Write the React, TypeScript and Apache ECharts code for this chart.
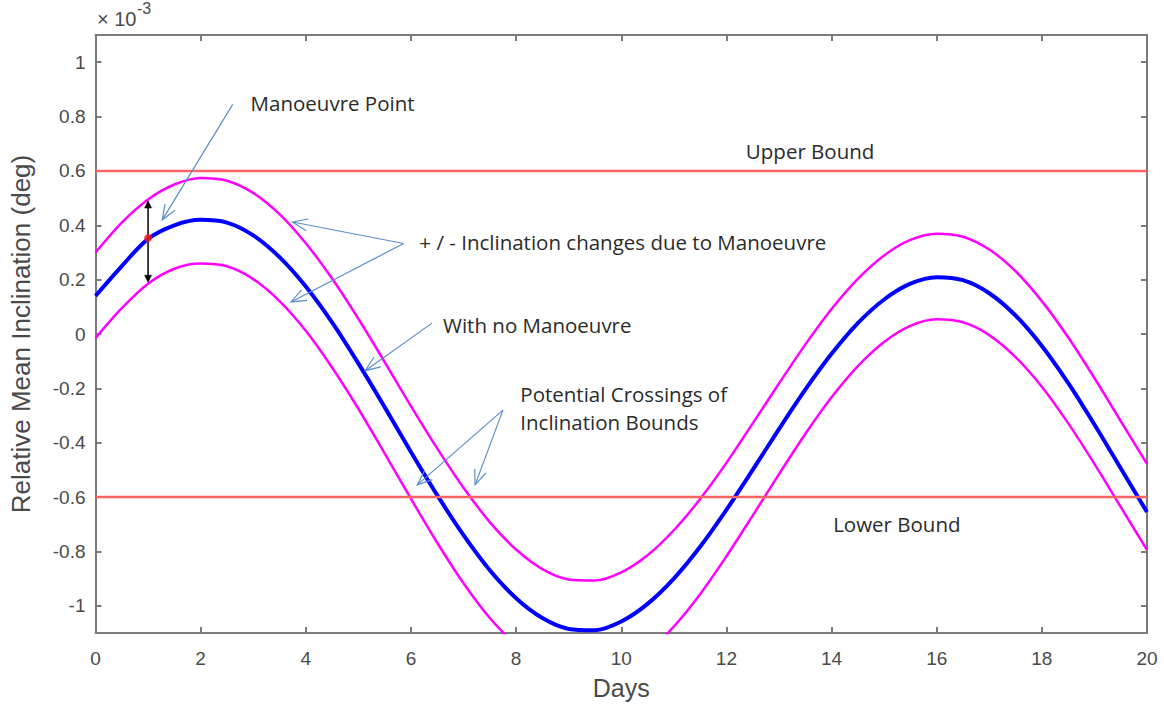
import React, { useEffect, useRef } from "react";
import * as echarts from "echarts";

// ---- Data (inclination in units of 1e-3 deg) ----
const days = [
  0, 0.5, 1, 1.5, 2, 2.5, 3, 3.5, 4, 4.5, 5, 5.5, 6, 6.5, 7, 7.5, 8, 8.5, 9, 9.5,
  10, 10.5, 11, 11.5, 12, 12.5, 13, 13.5, 14, 14.5, 15, 15.5, 16, 16.5, 17, 17.5,
  18, 18.5, 19, 19.5, 20,
];
const noManoeuvre = [
  0.14, 0.25, 0.35, 0.4, 0.42, 0.41, 0.363, 0.283, 0.175, 0.043, -0.108, -0.269,
  -0.434, -0.593, -0.74, -0.869, -0.972, -1.045, -1.085, -1.09, -1.058, -0.993,
  -0.9, -0.783, -0.647, -0.5, -0.35, -0.205, -0.073, 0.04, 0.127, 0.185, 0.209,
  0.198, 0.15, 0.068, -0.044, -0.18, -0.333, -0.494, -0.655,
];
const plusManoeuvre = [
  0.3, 0.41, 0.495, 0.55, 0.574, 0.564, 0.519, 0.441, 0.334, 0.204, 0.056, -0.103,
  -0.265, -0.421, -0.566, -0.692, -0.793, -0.865, -0.903, -0.907, -0.877, -0.814,
  -0.722, -0.607, -0.474, -0.329, -0.182, -0.039, 0.092, 0.203, 0.289, 0.346,
  0.369, 0.358, 0.311, 0.231, 0.121, -0.012, -0.162, -0.32, -0.478,
];
const minusManoeuvre = [
  -0.015, 0.095, 0.185, 0.24, 0.259, 0.249, 0.202, 0.121, 0.012, -0.123, -0.275,
  -0.439, -0.606, -0.768, -0.917, -1.045, -1.145, -1.226, -1.265, -1.267, -1.236,
  -1.171, -1.076, -0.957, -0.818, -0.668, -0.516, -0.368, -0.233, -0.118, -0.029,
  0.03, 0.054, 0.043, -0.004, -0.085, -0.194, -0.328, -0.478, -0.636, -0.794,
];
const upperBound = 0.6;
const lowerBound = -0.6;
const yTicks = [-1, -0.8, -0.6, -0.4, -0.2, 0, 0.2, 0.4, 0.6, 0.8, 1];
const xMin = 0;
const xMax = 20;
const xStep = 2;
const yMin = -1.1;
const yMax = 1.1;

// Manoeuvre point and +/- change arrows (data coords)
const manoeuvrePoint = [1, 0.353];
const changeArrows = [
  [1, 0.353, 1, 0.49],
  [1, 0.353, 1, 0.19],
];

// Annotation call-out arrows [x0, y0, x1, y1] (data coords)
const calloutArrows = [
  [2.61, 0.845, 1.27, 0.42],
  [5.86, 0.333, 3.75, 0.412],
  [5.86, 0.333, 3.72, 0.118],
  [6.4, 0.04, 5.13, -0.135],
  [7.75, -0.28, 6.12, -0.555],
  [7.75, -0.28, 7.22, -0.555],
];

// Annotation labels [x (left), y (middle)] and their texts
const labelTexts = [
  "Manoeuvre Point",
  "Upper Bound",
  "+ / - Inclination changes due to Manoeuvre",
  "With no Manoeuvre",
  "Potential Crossings of",
  "Inclination Bounds",
  "Lower Bound",
];
const labelPositions = [
  [2.95, 0.849],
  [12.37, 0.673],
  [6.16, 0.338],
  [6.61, 0.033],
  [8.08, -0.221],
  [8.08, -0.324],
  [14.03, -0.699],
];

const AXIS_COLOR = "#7a7a7a";
const LABEL_COLOR = "#4a4a4a";
const CALLOUT_COLOR = "#5b8ec9";

export default function App() {
  const ref = useRef<HTMLDivElement>(null);

  useEffect(() => {
    if (!ref.current) return;
    const chart = echarts.init(ref.current, undefined, { renderer: "svg" });

    const toPairs = (vals: number[]) => days.map((d, i) => [d, vals[i]]);

    const tickFmt = (v: number) => String(Math.round(v * 10) / 10);

    const option: any = {
      animation: false,
      backgroundColor: "#ffffff",
      grid: {
        left: 95.5,
        right: 17,
        top: 35,
        bottom: 71,
        containLabel: false,
        outerBoundsMode: "none",
      },
      xAxis: [
        {
          type: "value",
          min: xMin,
          max: xMax,
          interval: xStep,
          name: "Days",
          nameLocation: "middle",
          nameGap: 42,
          nameTextStyle: { fontFamily: "Liberation Sans", fontSize: 25, color: LABEL_COLOR },
          axisLine: { show: true, onZero: false, lineStyle: { color: AXIS_COLOR, width: 2 } },
          axisTick: { show: true, inside: true, length: 6, lineStyle: { color: AXIS_COLOR, width: 2 } },
          axisLabel: {
            fontFamily: "Liberation Sans",
            fontSize: 19,
            color: LABEL_COLOR,
            margin: 16,
            formatter: tickFmt,
          },
          splitLine: { show: false },
        },
        {
          type: "value",
          position: "top",
          min: xMin,
          max: xMax,
          interval: xStep,
          axisLine: { show: true, onZero: false, lineStyle: { color: AXIS_COLOR, width: 2 } },
          axisTick: { show: true, inside: true, length: 6, lineStyle: { color: AXIS_COLOR, width: 2 } },
          axisLabel: { show: false },
          splitLine: { show: false },
        },
      ],
      yAxis: [
        {
          type: "value",
          min: yMin,
          max: yMax,
          name: "Relative Mean Inclination (deg)",
          nameLocation: "middle",
          nameGap: 62,
          nameTextStyle: { fontFamily: "Liberation Sans", fontSize: 26, color: LABEL_COLOR },
          axisLine: { show: true, onZero: false, lineStyle: { color: AXIS_COLOR, width: 2 } },
          axisTick: {
            show: true,
            inside: true,
            length: 6,
            customValues: yTicks,
            lineStyle: { color: AXIS_COLOR, width: 2 },
          },
          axisLabel: {
            fontFamily: "Liberation Sans",
            fontSize: 19,
            color: LABEL_COLOR,
            margin: 10,
            customValues: yTicks,
            formatter: tickFmt,
          },
          splitLine: { show: false },
        },
        {
          type: "value",
          position: "right",
          min: yMin,
          max: yMax,
          axisLine: { show: true, onZero: false, lineStyle: { color: AXIS_COLOR, width: 2 } },
          axisTick: {
            show: true,
            inside: true,
            length: 6,
            customValues: yTicks,
            lineStyle: { color: AXIS_COLOR, width: 2 },
          },
          axisLabel: { show: false, customValues: yTicks },
          splitLine: { show: false },
        },
      ],
      series: [
        {
          name: "+ Manoeuvre",
          type: "line",
          data: toPairs(plusManoeuvre),
          smooth: 0.3,
          showSymbol: false,
          lineStyle: { color: "#ff00ff", width: 2.5 },
          itemStyle: { color: "#ff00ff" },
          z: 2,
        },
        {
          name: "- Manoeuvre",
          type: "line",
          data: toPairs(minusManoeuvre),
          smooth: 0.3,
          showSymbol: false,
          lineStyle: { color: "#ff00ff", width: 2.5 },
          itemStyle: { color: "#ff00ff" },
          z: 2,
        },
        {
          name: "No Manoeuvre",
          type: "line",
          data: toPairs(noManoeuvre),
          smooth: 0.3,
          showSymbol: false,
          lineStyle: { color: "#0000ff", width: 4 },
          itemStyle: { color: "#0000ff" },
          z: 3,
        },
        {
          name: "Upper Bound",
          type: "line",
          data: [
            [xMin, upperBound],
            [xMax, upperBound],
          ],
          showSymbol: false,
          lineStyle: { color: "#ff6464", width: 2.5 },
          z: 4,
        },
        {
          name: "Lower Bound",
          type: "line",
          data: [
            [xMin, lowerBound],
            [xMax, lowerBound],
          ],
          showSymbol: false,
          lineStyle: { color: "#ff6464", width: 2.5 },
          z: 4,
        },
        {
          name: "Change arrows",
          type: "custom",
          data: changeArrows,
          z: 5,
          renderItem: (params: any, api: any) => {
            const p0 = api.coord([api.value(0), api.value(1)]);
            const p1 = api.coord([api.value(2), api.value(3)]);
            const ang = Math.atan2(p1[1] - p0[1], p1[0] - p0[0]);
            const L = 8;
            const A = 0.45;
            const h1 = [p1[0] - L * Math.cos(ang - A), p1[1] - L * Math.sin(ang - A)];
            const h2 = [p1[0] - L * Math.cos(ang + A), p1[1] - L * Math.sin(ang + A)];
            const base = [p1[0] - L * 0.8 * Math.cos(ang), p1[1] - L * 0.8 * Math.sin(ang)];
            return {
              type: "group",
              children: [
                {
                  type: "line",
                  shape: { x1: p0[0], y1: p0[1], x2: base[0], y2: base[1] },
                  style: { stroke: "#000000", lineWidth: 1.5 },
                },
                {
                  type: "polygon",
                  shape: { points: [h1, p1, h2] },
                  style: { fill: "#000000", stroke: "#000000", lineWidth: 0.5 },
                },
              ],
            };
          },
        },
        {
          name: "Manoeuvre Point",
          type: "scatter",
          data: [manoeuvrePoint],
          symbol: "circle",
          symbolSize: 8,
          itemStyle: { color: "#ff1a1a" },
          z: 6,
        },
        {
          name: "Callouts",
          type: "custom",
          data: calloutArrows,
          z: 7,
          renderItem: (params: any, api: any) => {
            const p0 = api.coord([api.value(0), api.value(1)]);
            const p1 = api.coord([api.value(2), api.value(3)]);
            const ang = Math.atan2(p1[1] - p0[1], p1[0] - p0[0]);
            const L = 16;
            const A = 0.38;
            const h1 = [p1[0] - L * Math.cos(ang - A), p1[1] - L * Math.sin(ang - A)];
            const h2 = [p1[0] - L * Math.cos(ang + A), p1[1] - L * Math.sin(ang + A)];
            return {
              type: "group",
              children: [
                {
                  type: "line",
                  shape: { x1: p0[0], y1: p0[1], x2: p1[0], y2: p1[1] },
                  style: { stroke: CALLOUT_COLOR, lineWidth: 1.2 },
                },
                {
                  type: "polyline",
                  shape: { points: [h1, p1, h2] },
                  style: { stroke: CALLOUT_COLOR, fill: "none", lineWidth: 1.2 },
                },
              ],
            };
          },
        },
        {
          name: "Labels",
          type: "custom",
          data: labelPositions,
          z: 8,
          renderItem: (params: any, api: any) => {
            const p = api.coord([api.value(0), api.value(1)]);
            return {
              type: "text",
              x: p[0],
              y: p[1],
              style: {
                text: labelTexts[params.dataIndex],
                fontFamily: "Open Sans",
                fontSize: 20.5,
                fill: "#2b2b2b",
                align: "left",
                verticalAlign: "middle",
              },
            };
          },
        },
      ],
      graphic: [
        {
          type: "text",
          left: 97,
          top: 9,
          style: {
            text: "× 10",
            fontFamily: "Liberation Sans",
            fontSize: 20,
            fill: LABEL_COLOR,
          },
        },
        {
          type: "text",
          left: 137,
          top: 0,
          style: {
            text: "-3",
            fontFamily: "Liberation Sans",
            fontSize: 16,
            fill: LABEL_COLOR,
          },
        },
      ],
    };

    chart.setOption(option);
    return () => chart.dispose();
  }, []);

  return (
    <div
      ref={ref}
      style={{ position: "fixed", left: 0, top: 0, width: 1164, height: 704, background: "#fff" }}
    />
  );
}
